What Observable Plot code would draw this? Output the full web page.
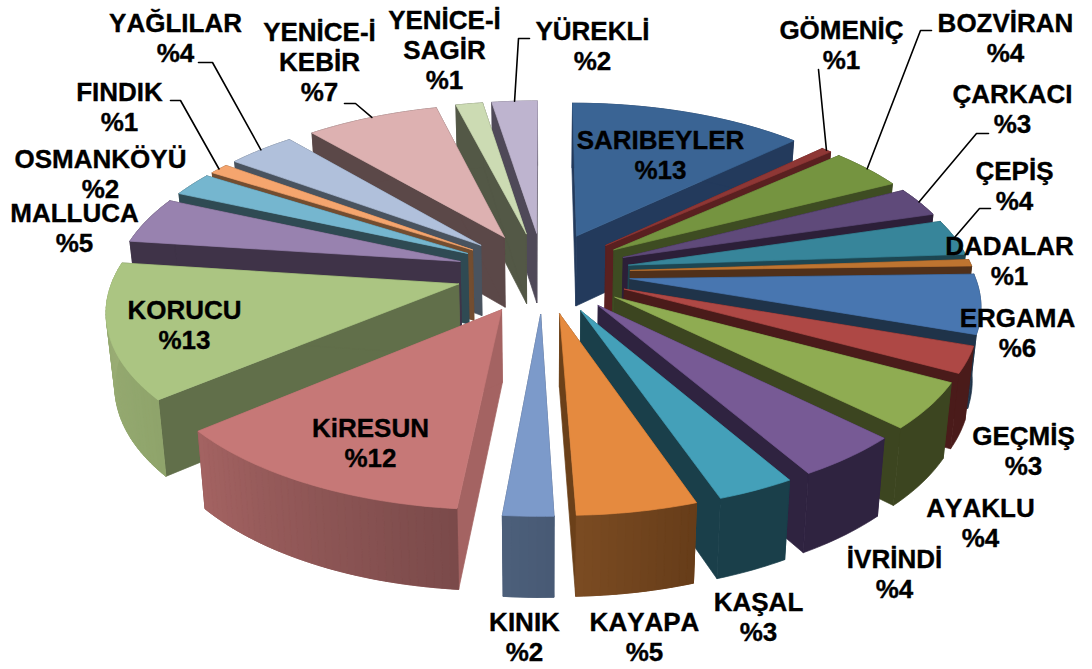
<!doctype html>
<html><head><meta charset="utf-8">
<style>html,body{margin:0;padding:0;background:#fff;overflow:hidden}svg{display:block}svg text{font-kerning:none}</style>
<script src="https://cdn.jsdelivr.net/npm/d3@7"></script>
<script src="https://cdn.jsdelivr.net/npm/@observablehq/plot@0.6"></script>
</head><body>
<script>
// ---- data ----
const names = ["SARIBEYLER","GÖMENİÇ","BOZVİRAN","ÇARKACI","ÇEPİŞ","DADALAR","ERGAMA","GEÇMİŞ","AYAKLU","İVRİNDİ","KAŞAL","KAYAPA","KINIK","KiRESUN","KORUCU","MALLUCA","OSMANKÖYÜ","FINDIK","YAĞLILAR","YENİCE-İ\nKEBİR","YENİCE-İ\nSAGİR","YÜREKLİ"];
const shares = [12.85,0.57,4.07,2.89,3.53,0.65,5.78,2.56,4.50,4.24,3.09,4.75,1.98,12.42,13.22,4.58,2.34,1.05,3.72,7.27,1.47,2.49];
const shown = [13,1,4,3,4,1,6,3,4,4,3,5,2,12,13,5,2,1,4,7,1,2];

// ---- styles ----
const topColors = ["#3A6494","#8E3735","#759440","#5F4A7A","#37859A","#BE7430","#4876B0","#AE4845","#8FAC52","#775A95","#44A0B9","#E58A3F","#7C9ACA","#C67877","#ABC582","#9882AF","#75B6CF","#F5A56E","#B0C0DB","#DDB1B1","#CCDBB3","#BEB4CF"];
const wallColors = ["#233A5C","#5A2020","#3E4C22","#2C1F38","#1D4652","#50301A","#1F3349","#4A1B1A","#3C4520","#2F2340","#1A3F4A","#6B4019","#4A5B76","#A46362","#616F4A","#3F3348","#2F4A53","#734D30","#49535F","#5B4848","#535846","#4F4958"];
const outerStart = ["#233A5C","#5A2020","#3E4C22","#2C1F38","#1D4652","#50301A","#1F3349","#4A1B1A","#3C4520","#2F2340","#1A3F4A","#663C19","#485A75","#7A4A4A","#8FA46B","#3F3348","#2F4A53","#734D30","#49535F","#5B4848","#535846","#4F4958"];
const outerEnd = ["#233A5C","#5A2020","#3E4C22","#2C1F38","#1D4652","#50301A","#1F3349","#4A1B1A","#3C4520","#2F2340","#1A3F4A","#7B4C22","#4C5F7A","#A46362","#9CAF77","#3F3348","#2F4A53","#734D30","#49535F","#5B4848","#535846","#4F4958"];

// ---- label layout (centre of each text block, chart pixels) ----
const labelX = [660,841,1005,1012,1014,1009,1017,1023,980,894,758,644,524,370,184,74,100,119,175,319,444,592];
const labelY = [154,44,37,108,185,260,332,450,522,573,616,636,636,442,324,227,173,106,37,61,49,45];
const leaderElbows = {1:[[818,69]],2:[[920,30],[931,30]],3:[[976,133],[988,133]],4:[[979,208],[990,208]],17:[[180,100],[170,100]],18:[[212,62],[198,62]],19:[[355,103],[344,103]],21:[[518,38],[529,38]]};

// ---- 3-D pie view ----
const view = {cx:542.76, cy:271.89, sx:343.75, sy:160.66, persp:0.139, explode:0.254, bottomScale:0.98, depth0:60.7, depthK:0.0394};
const top3d = (X,Y) => { const w = 1 + view.persp*Y; return [view.cx + view.sx*X/w, view.cy - view.sy*Y/w]; };
const low3d = (X,Y) => { const [a,b] = top3d(X,Y); return [view.cx + (a-view.cx)*view.bottomScale, b + view.depth0 + view.depthK*b]; };

const total = d3.sum(shares);
let acc = 0;
const slices = shares.map((v,i) => {
  const t0 = acc/total*2*Math.PI; acc += v; const t1 = acc/total*2*Math.PI; const m = (t0+t1)/2;
  return {i, t0, t1, m, ax:view.explode*Math.sin(m), ay:view.explode*Math.cos(m)};
});
const rim = (s,t) => [s.ax+Math.sin(t), s.ay+Math.cos(t)];

let pid = 0; const rows = [];
const poly = (pts,c,w) => { const id = pid++; [...pts, pts[0]].forEach(p => rows.push({id, x:p[0], y:p[1], c})); };
const order = [...slices].sort((a,b) => b.ay+Math.cos(b.m)*0.9 - (a.ay+Math.cos(a.m)*0.9));
for (const s of order) {
  const wall = wallColors[s.i], A = [s.ax,s.ay];
  for (const t of [s.t0,s.t1]) {
    const R = rim(s,t);
    poly([top3d(...A),top3d(...R),low3d(...R),low3d(...A)], wall);
  }
  const n = Math.max(2, Math.ceil((s.t1-s.t0)/(1.2*Math.PI/180)));
  const at = k => s.t0+(s.t1-s.t0)*k/n;
  const mix = d3.interpolateRgb(outerStart[s.i], outerEnd[s.i]);
  // whole outer wall first, then (only where the shade changes) narrow shaded bands on it
  const arc = d3.range(n+1).map(k => rim(s,at(k)));
  poly([...arc.map(p => top3d(...p)), ...arc.slice().reverse().map(p => low3d(...p))], mix(.5));
  if (outerStart[s.i] !== outerEnd[s.i]) {
    for (let k=0;k<n;k++) {
      const Ra = arc[k], Rb = arc[k+1];
      poly([top3d(...Ra),top3d(...Rb),low3d(...Rb),low3d(...Ra)], mix((k+.5)/n));
    }
  }
  poly([top3d(...A), ...arc.map(p => top3d(...p))], topColors[s.i]);
}

const leaders = [];
Object.entries(leaderElbows).forEach(([i,el]) => {
  const s = slices[+i];
  [top3d(...rim(s,s.m)), ...el].forEach(p => leaders.push({id:+i, x:p[0], y:p[1]}));
});
const labels = names.map((n,i) => ({x:labelX[i], y:labelY[i], t:`${n}\n%${shown[i]}`}));

const chart = Plot.plot({
  width:1092, height:669, margin:0,
  x:{domain:[0,1092], range:[0,1092], axis:null},
  y:{domain:[0,669], range:[0,669], axis:null},
  color:{type:"identity"},
  style:{background:"#fff"},
  marks:[
    Plot.line(rows,{x:"x",y:"y",z:"id",fill:"c",stroke:"c",strokeWidth:0.7,curve:"linear"}),
    Plot.line(leaders,{x:"x",y:"y",z:"id",stroke:"#000",strokeWidth:1.6,curve:"linear"}),
    Plot.text(labels,{x:"x",y:"y",text:"t",fontFamily:"'Liberation Sans',Arial,sans-serif",fontWeight:"bold",fontSize:26,lineHeight:1.15,lineAnchor:"middle",textAnchor:"middle",fill:"#000",stroke:"#000",strokeWidth:0.35})
  ]
});
document.body.appendChild(chart);
</script></body></html>
